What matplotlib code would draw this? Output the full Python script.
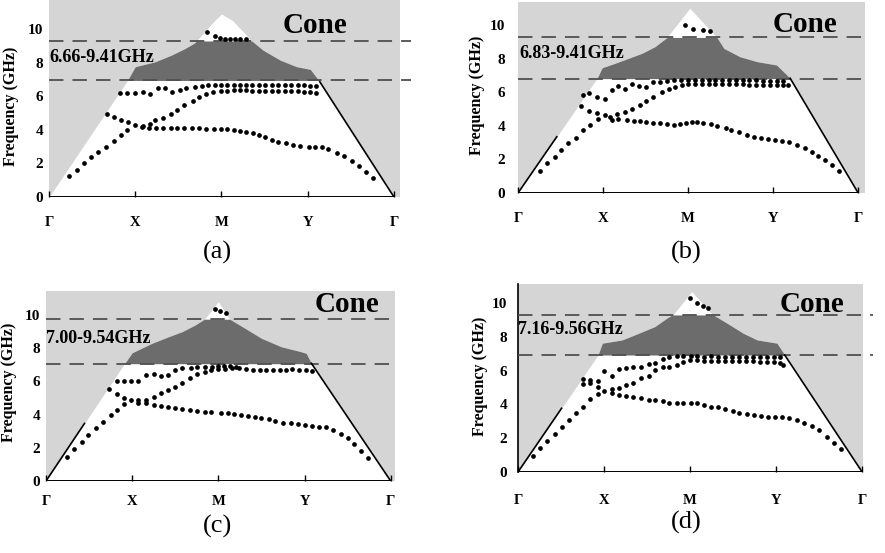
import numpy as np
import matplotlib
matplotlib.use('Agg')
import matplotlib.pyplot as plt

plt.rcParams['font.family'] = ['Liberation Serif', 'DejaVu Serif']

# k-path
kpath_ticks = [0, 1, 2, 3, 4]
kpath_labels = ['Γ', 'X', 'M', 'Y', 'Γ']
freq_ticks = [0, 2, 4, 6, 8, 10]

# ---------------- panel (a) ----------------
a_gap_text = '6.66-9.41GHz'
a_gap_lo, a_gap_hi = 6.94, 9.29
a_light_x = [0, 0.9, 1.0, 1.23, 1.42, 1.58, 1.69, 1.92, 2.0, 2.13, 2.35, 2.48, 2.68, 2.87, 3.03, 3.14, 4.0]
a_light_y = [0, 6.86, 7.76, 8.05, 8.45, 8.85, 9.18, 10.5, 10.9, 10.5, 9.3, 8.75, 8.15, 7.76, 7.6, 6.86, 0]
a_low_x = [0.23, 0.32, 0.41, 0.49, 0.57, 0.66, 0.75, 0.83, 0.91, 1.0,
           1.08, 1.16, 1.24, 1.32, 1.41, 1.49, 1.57, 1.66, 1.74, 1.82, 1.91, 2.0,
           2.06, 2.14, 2.21, 2.29, 2.37, 2.43, 2.5, 2.58, 2.66, 2.75, 2.83, 2.91, 3.01, 3.08,
           3.16, 3.24, 3.34, 3.42, 3.51, 3.6, 3.68, 3.76]
a_low_y = [1.25, 1.6, 2.0, 2.4, 2.7, 3.0, 3.35, 3.7, 4.0, 4.3,
           4.15, 4.13, 4.13, 4.12, 4.12, 4.12, 4.12, 4.1, 4.08, 4.05, 4.03, 4.03,
           4.03, 3.99, 3.95, 3.89, 3.83, 3.69, 3.55, 3.39, 3.29, 3.19, 3.1, 3.06, 2.99, 2.99,
           2.96, 2.84, 2.64, 2.44, 2.16, 1.87, 1.51, 1.11]
a_mid_x = [0.67, 0.75, 0.83, 0.92, 1.09, 1.17, 1.23, 1.32, 1.41, 1.49, 1.57, 1.67, 1.74, 1.82, 1.9, 2.0,
           2.06, 2.14, 2.21, 2.28, 2.35, 2.43, 2.5, 2.58, 2.66, 2.74, 2.81, 2.89, 2.96, 3.03, 3.1]
a_mid_y = [4.92, 4.74, 4.58, 4.48, 4.23, 4.35, 4.58, 4.68, 4.92, 5.21, 5.47, 5.72, 5.96, 6.15, 6.25, 6.3,
           6.33, 6.35, 6.35, 6.35, 6.33, 6.33, 6.33, 6.32, 6.3, 6.3, 6.3, 6.3, 6.28, 6.25, 6.2]
a_up_x = [0.82, 0.91, 1.0, 1.09, 1.17, 1.26, 1.35, 1.43, 1.52, 1.59, 1.69, 1.77, 1.84, 1.92, 2.0,
          2.06, 2.14, 2.21, 2.28, 2.35, 2.43, 2.5, 2.58, 2.66, 2.74, 2.81, 2.89, 2.96, 3.03, 3.1]
a_up_y = [6.17, 6.2, 6.2, 6.24, 6.13, 6.47, 6.47, 6.27, 6.4, 6.51, 6.55, 6.59, 6.65, 6.65, 6.65,
          6.67, 6.68, 6.68, 6.68, 6.68, 6.67, 6.67, 6.67, 6.67, 6.67, 6.66, 6.66, 6.65, 6.63, 6.6]
a_top_x = [1.83, 1.92, 1.98, 2.04, 2.1, 2.16, 2.22, 2.28]
a_top_y = [9.84, 9.6, 9.45, 9.4, 9.4, 9.4, 9.4, 9.4]

# ---------------- panel (b) ----------------
b_gap_text = '6.83-9.41GHz'
b_gap_lo, b_gap_hi = 6.81, 9.26
b_light_x = [0, 0.93, 0.99, 1.14, 1.3, 1.46, 1.61, 1.75, 2.02, 2.34, 2.42, 2.61, 2.81, 3.04, 3.2, 4.0]
b_light_y = [0, 6.83, 7.46, 7.72, 8.02, 8.32, 8.71, 9.25, 11.0, 9.25, 8.61, 8.11, 7.82, 7.62, 6.83, 0]
b_low_x = [0.26, 0.34, 0.43, 0.51, 0.59, 0.68, 0.77, 0.85, 0.94, 1.02,
           1.1, 1.18, 1.28, 1.36, 1.44, 1.51, 1.59, 1.67, 1.75, 1.83, 1.91, 1.98, 2.04,
           2.1, 2.18, 2.27, 2.34, 2.44, 2.51, 2.6, 2.69, 2.77, 2.86, 2.94, 3.02, 3.1, 3.19,
           3.28, 3.38, 3.46, 3.53, 3.61, 3.69, 3.77]
b_low_y = [1.31, 1.77, 2.16, 2.56, 2.96, 3.29, 3.75, 4.05, 4.4, 4.64,
           4.35, 4.39, 4.35, 4.29, 4.29, 4.21, 4.15, 4.15, 4.09, 4.05, 4.09, 4.15, 4.2,
           4.21, 4.15, 4.09, 4.01, 3.85, 3.75, 3.61, 3.45, 3.35, 3.25, 3.21, 3.15, 3.1, 3.02,
           2.86, 2.66, 2.42, 2.22, 1.96, 1.67, 1.31]
b_mid_x = [0.74, 0.83, 0.93, 1.08, 1.16, 1.26, 1.34, 1.44, 1.51, 1.59, 1.69, 1.77, 1.85, 1.93, 2.0,
           2.08, 2.16, 2.24, 2.32, 2.4, 2.48, 2.56, 2.64, 2.72, 2.8, 2.88, 2.96, 3.04, 3.11, 3.18]
b_mid_y = [5.2, 4.9, 4.75, 4.54, 4.68, 4.84, 5.0, 5.24, 5.48, 5.73, 6.0, 6.2, 6.33, 6.42, 6.47,
           6.49, 6.49, 6.48, 6.48, 6.47, 6.47, 6.46, 6.46, 6.45, 6.45, 6.45, 6.44, 6.44, 6.43, 6.43]
b_up_x = [0.76, 0.83, 0.93, 1.02, 1.1, 1.18, 1.26, 1.34, 1.42, 1.5, 1.59, 1.67, 1.75, 1.84, 1.92, 2.0,
          2.08, 2.16, 2.24, 2.32, 2.4, 2.48, 2.56, 2.64, 2.72, 2.8, 2.88, 2.96, 3.04, 3.11]
b_up_y = [5.83, 5.93, 5.73, 5.58, 6.13, 6.39, 6.2, 6.49, 6.39, 6.33, 6.63, 6.63, 6.68, 6.72, 6.75, 6.75,
          6.73, 6.72, 6.72, 6.71, 6.71, 6.7, 6.7, 6.7, 6.7, 6.7, 6.69, 6.69, 6.68, 6.67]
b_top_x = [1.96, 2.06, 2.18, 2.26]
b_top_y = [10.0, 9.74, 9.7, 9.66]

# ---------------- panel (c) ----------------
c_gap_text = '7.00-9.54GHz'
c_gap_lo, c_gap_hi = 7.07, 9.75
c_light_x = [0, 0.9, 1.0, 1.23, 1.42, 1.58, 1.73, 1.84, 2.0, 2.13, 2.31, 2.5, 2.73, 2.96, 3.02, 3.08, 4.0]
c_light_y = [0, 6.99, 7.73, 8.3, 8.69, 9.0, 9.4, 9.76, 10.8, 9.76, 9.2, 8.6, 8.09, 7.79, 7.69, 7.09, 0]
c_low_x = [0.24, 0.33, 0.42, 0.49, 0.58, 0.66, 0.75, 0.82, 0.91, 0.99,
           1.07, 1.16, 1.25, 1.33, 1.41, 1.5, 1.58, 1.67, 1.75, 1.84, 1.92,
           2.03, 2.11, 2.18, 2.26, 2.34, 2.42, 2.5, 2.59, 2.66, 2.75, 2.84, 2.92, 3.0, 3.09,
           3.17, 3.25, 3.33, 3.42, 3.5, 3.58, 3.66, 3.74]
c_low_y = [1.43, 1.91, 2.37, 2.77, 3.17, 3.57, 3.98, 4.28, 4.64, 4.88,
           4.72, 4.68, 4.58, 4.52, 4.44, 4.38, 4.32, 4.28, 4.24, 4.18, 4.18,
           4.12, 4.08, 4.04, 3.98, 3.92, 3.88, 3.78, 3.74, 3.64, 3.51, 3.47, 3.41, 3.37, 3.33,
           3.27, 3.23, 3.07, 2.83, 2.57, 2.23, 1.83, 1.37]
c_mid_x = [0.73, 0.82, 0.91, 1.07, 1.16, 1.25, 1.33, 1.41, 1.5, 1.58, 1.67, 1.75, 1.84, 1.92, 2.0,
           2.08, 2.16, 2.24, 2.32, 2.4, 2.48, 2.55, 2.63, 2.71, 2.79, 2.86, 2.94, 3.02, 3.09]
c_mid_y = [5.52, 5.24, 4.98, 4.88, 4.88, 5.08, 5.28, 5.48, 5.64, 5.88, 6.18, 6.45, 6.59, 6.69, 6.73,
           6.76, 6.78, 6.8, 6.75, 6.7, 6.69, 6.69, 6.69, 6.7, 6.69, 6.72, 6.69, 6.69, 6.65]
c_up_x = [0.82, 0.91, 0.99, 1.07, 1.16, 1.25, 1.34, 1.41, 1.5, 1.58, 1.68, 1.75, 1.84, 1.93, 2.0,
          2.07, 2.14, 2.21]
c_up_y = [6.04, 6.04, 6.04, 6.04, 6.39, 6.45, 6.33, 6.39, 6.69, 6.79, 6.79, 6.85, 6.89, 6.89, 6.93,
          6.95, 6.93, 6.9]
c_top_x = [1.96, 2.02, 2.09]
c_top_y = [10.34, 10.26, 10.1]

# ---------------- panel (d) ----------------
d_gap_text = '7.16-9.56GHz'
d_gap_lo, d_gap_hi = 6.92, 9.29
d_light_x = [0, 0.93, 0.98, 1.21, 1.4, 1.59, 1.73, 1.81, 2.02, 2.25, 2.43, 2.62, 2.78, 3.01, 3.1, 4.0]
d_light_y = [0, 6.92, 7.62, 7.81, 8.2, 8.6, 9.1, 9.35, 10.67, 9.35, 8.8, 8.2, 7.81, 7.62, 6.92, 0]
d_low_x = [0.17, 0.26, 0.34, 0.43, 0.51, 0.59, 0.67, 0.76, 0.84, 0.93, 1.0,
           1.09, 1.17, 1.25, 1.34, 1.43, 1.52, 1.59, 1.68, 1.76, 1.85, 1.92, 2.01,
           2.08, 2.16, 2.24, 2.33, 2.41, 2.5, 2.57, 2.66, 2.74, 2.82, 2.91, 2.99, 3.07, 3.15,
           3.24, 3.33, 3.42, 3.5, 3.59, 3.67, 3.76]
d_low_y = [0.95, 1.4, 1.85, 2.25, 2.68, 3.08, 3.47, 3.83, 4.3, 4.62, 4.81,
           4.66, 4.56, 4.5, 4.42, 4.36, 4.26, 4.26, 4.2, 4.1, 4.06, 4.06, 4.1,
           4.1, 3.96, 3.87, 3.83, 3.71, 3.63, 3.51, 3.43, 3.37, 3.31, 3.27, 3.27, 3.23, 3.18,
           3.08, 2.92, 2.72, 2.49, 2.09, 1.73, 1.34]
d_mid_x = [0.76, 0.84, 0.93, 1.09, 1.17, 1.25, 1.34, 1.43, 1.52, 1.59, 1.68, 1.76, 1.85, 1.92,
           2.0, 2.08, 2.16, 2.24, 2.32, 2.41, 2.49, 2.57, 2.65, 2.73, 2.81, 2.89, 2.97, 3.04, 3.08]
d_mid_y = [5.21, 5.25, 5.01, 4.89, 4.95, 5.15, 5.29, 5.54, 5.68, 6.04, 6.2, 6.2, 6.33, 6.53,
           6.62, 6.6, 6.59, 6.59, 6.59, 6.59, 6.58, 6.57, 6.55, 6.55, 6.53, 6.53, 6.5, 6.47, 6.33]
d_up_x = [0.76, 0.84, 0.93, 1.0, 1.09, 1.17, 1.26, 1.34, 1.43, 1.52, 1.59, 1.68, 1.76, 1.85, 1.92, 2.01,
          2.08, 2.16, 2.24, 2.32, 2.41, 2.49, 2.57, 2.65, 2.73, 2.81, 2.89, 2.97, 3.04]
d_up_y = [5.49, 5.44, 5.4, 5.98, 5.67, 6.07, 6.13, 6.19, 6.19, 6.39, 6.47, 6.67, 6.83, 6.85, 6.85, 6.88,
          6.85, 6.83, 6.85, 6.83, 6.83, 6.83, 6.82, 6.82, 6.82, 6.81, 6.81, 6.8, 6.8]
d_top_x = [2.0, 2.08, 2.15, 2.21]
d_top_y = [10.28, 10.0, 9.82, 9.69]

LIGHT = '#d5d5d5'
DARK = '#6c6c6c'
DASH = '#4f4f4f'
W, H = 885, 553

panels = [
    dict(cap='(a)', px=(49, 400, 0, 197), xmax=4.07, ymax=11.73,
         light=(a_light_x, a_light_y), gap=(a_gap_lo, a_gap_hi), text=a_gap_text, text_xy=(0.01, 8.33),
         cone_xy=(3.08, 10.24), bands=[(a_low_x, a_low_y), (a_mid_x, a_mid_y), (a_up_x, a_up_y), (a_top_x, a_top_y)],
         edge_stop=0, dash_end=4.2, xpad=14, ypad=4, ylab=(-0.085, 0.46), cap_xy=(217, 252), left_spine=False),
    dict(cap='(b)', px=(518, 865, 2, 193), xmax=4.08, ymax=11.37,
         light=(b_light_x, b_light_y), gap=(b_gap_lo, b_gap_hi), text=b_gap_text, text_xy=(0.02, 8.33),
         cone_xy=(3.38, 10.06), bands=[(b_low_x, b_low_y), (b_mid_x, b_mid_y), (b_up_x, b_up_y), (b_top_x, b_top_y)],
         edge_stop=3.35, dash_end=4.1, xpad=14, ypad=9, ylab=(-0.095, 0.51), cap_xy=(686, 252), left_spine=False),
    dict(cap='(c)', px=(46, 395, 291, 481), xmax=4.05, ymax=11.45,
         light=(c_light_x, c_light_y), gap=(c_gap_lo, c_gap_hi), text=c_gap_text, text_xy=(0.0, 8.6),
         cone_xy=(3.49, 10.66), bands=[(c_low_x, c_low_y), (c_mid_x, c_mid_y), (c_up_x, c_up_y), (c_top_x, c_top_y)],
         edge_stop=3.47, dash_end=4.05, xpad=10, ypad=4, ylab=(-0.083, 0.52), cap_xy=(217, 526), left_spine=False),
    dict(cap='(d)', px=(518, 863, 284, 472), xmax=4.01, ymax=11.12,
         light=(d_light_x, d_light_y), gap=(d_gap_lo, d_gap_hi), text=d_gap_text, text_xy=(0.0, 8.4),
         cone_xy=(3.42, 9.88), bands=[(d_low_x, d_low_y), (d_mid_x, d_mid_y), (d_up_x, d_up_y), (d_top_x, d_top_y)],
         edge_stop=3.77, dash_end=4.13, xpad=16, ypad=8, ylab=(-0.087, 0.51), cap_xy=(686, 522), left_spine=True),
]

fig = plt.figure(figsize=(W / 100, H / 100), dpi=100)

for p in panels:
    x0, x1, y0, y1 = p['px']
    ax = fig.add_axes([x0 / W, 1 - y1 / H, (x1 - x0) / W, (y1 - y0) / H])
    ax.set_facecolor(LIGHT)
    ax.set_xlim(0, p['xmax'])
    ax.set_ylim(0, p['ymax'])

    lx, ly = p['light']
    ax.fill_between(lx, 0, ly, color='white', lw=0, zorder=1)

    # band gap region inside the light line
    lo, hi = p['gap']
    xx = np.linspace(0, 4, 1601)
    ll = np.interp(xx, lx, ly)
    ax.fill_between(xx, lo, np.minimum(ll, hi), where=ll > lo, interpolate=True,
                    color=DARK, lw=0, zorder=2)
    for yv in (lo, hi):
        ax.plot([0, p['dash_end']], [yv, yv], color=DASH, lw=1.3, dashes=(8, 5),
                clip_on=False, zorder=3)

    ax.plot([0, 4], [0, 0], color='black', lw=1.4, zorder=4)
    ax.plot(lx[-2:], ly[-2:], color='black', lw=1.2, zorder=4)
    if p['edge_stop'] > 0:
        xs = np.interp(p['edge_stop'], ly[:2], lx[:2])
        ax.plot([0, xs], [0, p['edge_stop']], color='black', lw=1.2, zorder=4)

    for bx, by in p['bands']:
        ax.plot(bx, by, 'o', ms=3.4, color='black', mec='none', zorder=5)

    ax.text(*p['text_xy'], p['text'], ha='left', va='center', fontsize=13,
            fontweight='bold', zorder=6)
    ax.text(*p['cone_xy'], 'Cone', ha='center', va='center', fontsize=21,
            fontweight='bold', zorder=6)

    ax.set_axisbelow(False)
    ax.set_xticks(kpath_ticks)
    ax.set_xticklabels(kpath_labels, fontsize=10.5, fontweight='bold')
    ax.tick_params(axis='x', direction='in', length=4, width=1, pad=p['xpad'], colors='black')
    ax.set_yticks(freq_ticks)
    ax.set_yticklabels([str(v) for v in freq_ticks], fontsize=11, fontweight='bold')
    ax.tick_params(axis='y', length=0, pad=p['ypad'])
    ax.set_ylabel('Frequency (GHz)', fontsize=11.5, fontweight='bold')
    ax.yaxis.set_label_coords(*p['ylab'])

    for side in ['top', 'right', 'bottom', 'left']:
        ax.spines[side].set_visible(False)
    if p['left_spine']:
        ax.spines['left'].set_visible(True)
        ax.spines['left'].set_linewidth(1.2)

    cx, cy = p['cap_xy']
    fig.text(cx / W, 1 - cy / H, p['cap'], ha='center', va='center', fontsize=19)

fig.savefig('out.png', dpi=100)
